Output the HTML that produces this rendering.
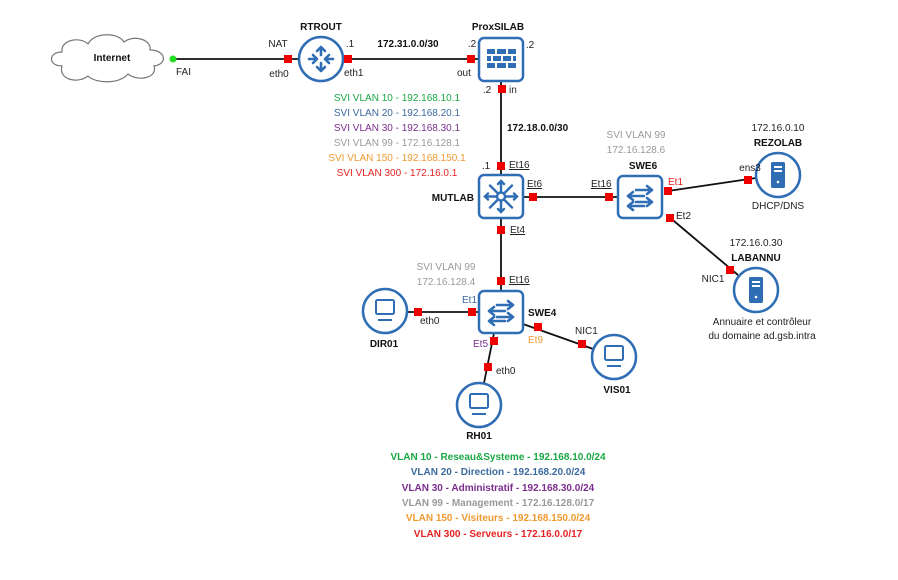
<!DOCTYPE html>
<html><head><meta charset="utf-8"><style>
html,body{margin:0;padding:0;background:#fff;}
svg{display:block;font-family:"Liberation Sans","DejaVu Sans",sans-serif;font-size:10px;}
.b{font-weight:bold;fill:#111;}
.t{fill:#222;}
</style></head><body>
<svg width="898" height="580" viewBox="0 0 898 580" xmlns="http://www.w3.org/2000/svg">
<defs>
<g id="pc"><circle r="22" fill="#fff" stroke="#2f6db5" stroke-width="2.5"/><rect x="-9" y="-11" width="18" height="14" rx="1.5" fill="none" stroke="#2f6db5" stroke-width="2"/><line x1="-7" y1="9" x2="7" y2="9" stroke="#2f6db5" stroke-width="2"/></g>
<g id="srv"><circle r="22" fill="#fff" stroke="#2f6db5" stroke-width="2.5"/><rect x="-7" y="-13" width="14" height="26" rx="1.5" fill="#2f6db5"/><rect x="-4" y="-9" width="8" height="2" fill="#fff"/><rect x="-4" y="-5" width="8" height="2" fill="#fff"/><circle cx="0" cy="7" r="1.3" fill="#fff"/></g>
<g id="sw"><rect x="-22" y="-21" width="44" height="42" rx="5" fill="#fff" stroke="#2f6db5" stroke-width="2.5"/>
<g stroke="#2f6db5" stroke-width="2.6" fill="none" stroke-linecap="round" stroke-linejoin="round">
<path d="M-4 -7 H12 M7 -11 L12 -7 L7 -3"/><path d="M-12 -1 H4 M-7 -5 L-12 -1 L-7 3"/>
<path d="M-4 5 H12 M7 1 L12 5 L7 9"/><path d="M-12 11 H4 M-7 7 L-12 11 L-7 15" transform="translate(0,-2)"/></g></g>
</defs>
<g stroke="#111" stroke-width="1.8" fill="none">
<line x1="172" y1="59" x2="479" y2="59"/>
<line x1="501" y1="81" x2="501" y2="290"/>
<line x1="523" y1="197" x2="617" y2="197"/>
<line x1="668" y1="191" x2="756" y2="178"/>
<line x1="668" y1="216" x2="738" y2="275"/>
<line x1="405" y1="312" x2="480" y2="312"/>
<line x1="523" y1="324" x2="596" y2="350"/>
<line x1="494" y1="333" x2="484" y2="383"/>
</g>
<!-- cloud -->
<path d="M62 66 C48 66 48 52 62 52 C60 40 80 36 88 44 C94 32 118 32 124 42 C134 34 152 40 150 50 C166 50 168 64 154 66 C158 78 138 82 128 74 C120 84 96 84 88 76 C78 84 58 80 62 66 Z" fill="#fff" stroke="#777" stroke-width="1.2"/>
<text x="112" y="61" class="b" text-anchor="middle">Internet</text>
<circle cx="173" cy="59" r="3.5" fill="#22dd22"/>
<!-- router -->
<circle cx="321" cy="59" r="22" fill="#fff" stroke="#2f6db5" stroke-width="2.5"/>
<g stroke="#2f6db5" stroke-width="2.6" fill="none" stroke-linecap="round" stroke-linejoin="round">
<path d="M321 47 V55 M317 51 L321 47 L325 51"/><path d="M321 63 V71 M317 67 L321 71 L325 67"/>
<path d="M309 59 H316 M313 55 L317 59 L313 63"/><path d="M333 59 H326 M329 55 L325 59 L329 63"/></g>
<!-- firewall -->
<rect x="479" y="38" width="44" height="43" rx="5" fill="#fff" stroke="#2f6db5" stroke-width="2.5"/>
<g fill="#2f6db5">
<rect x="487" y="49" width="8" height="5"/><rect x="497" y="49" width="9" height="5"/><rect x="508" y="49" width="8" height="5"/>
<rect x="487" y="56" width="4" height="5"/><rect x="493" y="56" width="8" height="5"/><rect x="503" y="56" width="8" height="5"/><rect x="513" y="56" width="3" height="5"/>
<rect x="487" y="63" width="8" height="5"/><rect x="497" y="63" width="9" height="5"/><rect x="508" y="63" width="8" height="5"/></g>
<!-- MUTLAB L3 -->
<rect x="479" y="175" width="44" height="43" rx="5" fill="#fff" stroke="#2f6db5" stroke-width="2.5"/>
<g stroke="#2f6db5" stroke-width="2.4" fill="none" stroke-linecap="round">
<circle cx="501" cy="196.5" r="4"/>
<path d="M501 192 V181 M501 201 V212 M496 196.5 H485 M506 196.5 H517 M497.5 193 L490 185.5 M504.5 193 L512 185.5 M497.5 200 L490 207.5 M504.5 200 L512 207.5"/>
<path d="M498 184 L501 181 L504 184 M498 209 L501 212 L504 209 M488 193.5 L485 196.5 L488 199.5 M514 193.5 L517 196.5 L514 199.5"/></g>
<use href="#sw" x="640" y="197"/>
<use href="#sw" x="501" y="312"/>
<use href="#srv" x="778" y="175"/>
<use href="#srv" x="756" y="290"/>
<use href="#pc" x="385" y="311"/>
<use href="#pc" x="479" y="405"/>
<use href="#pc" x="614" y="357"/>
<!-- ports -->
<g fill="#ee0000">
<rect x="284" y="55" width="8" height="8"/><rect x="344" y="55" width="8" height="8"/><rect x="467" y="55" width="8" height="8"/>
<rect x="498" y="85" width="8" height="8"/><rect x="497" y="162" width="8" height="8"/><rect x="529" y="193" width="8" height="8"/>
<rect x="497" y="226" width="8" height="8"/><rect x="605" y="193" width="8" height="8"/><rect x="664" y="187" width="8" height="8"/>
<rect x="744" y="176" width="8" height="8"/><rect x="666" y="214" width="8" height="8"/><rect x="726" y="266" width="8" height="8"/>
<rect x="497" y="277" width="8" height="8"/><rect x="468" y="308" width="8" height="8"/><rect x="414" y="308" width="8" height="8"/>
<rect x="490" y="337" width="8" height="8"/><rect x="484" y="363" width="8" height="8"/><rect x="534" y="323" width="8" height="8"/><rect x="578" y="340" width="8" height="8"/>
</g>
<!-- labels -->
<text x="321" y="30" class="b" text-anchor="middle">RTROUT</text>
<text x="498" y="30" class="b" text-anchor="middle">ProxSILAB</text>
<text x="278" y="47" class="t" text-anchor="middle">NAT</text>
<text x="350" y="47" class="t" text-anchor="middle">.1</text>
<text x="408" y="47" class="b" text-anchor="middle">172.31.0.0/30</text>
<text x="472" y="47" class="t" text-anchor="middle">.2</text>
<text x="530" y="48" class="t" text-anchor="middle">.2</text>
<text x="176" y="75" class="t">FAI</text>
<text x="279" y="77" class="t" text-anchor="middle">eth0</text>
<text x="344" y="76" class="t">eth1</text>
<text x="457" y="76" class="t">out</text>
<text x="487" y="93" class="t" text-anchor="middle">.2</text>
<text x="509" y="93" class="t">in</text>
<g text-anchor="middle">
<text x="397" y="101" fill="#1aa845">SVI VLAN 10 - 192.168.10.1</text>
<text x="397" y="116" fill="#3c6a9e">SVI VLAN 20 - 192.168.20.1</text>
<text x="397" y="131" fill="#7b2d8e">SVI VLAN 30 - 192.168.30.1</text>
<text x="397" y="146" fill="#999">SVI VLAN 99 - 172.16.128.1</text>
<text x="397" y="161" fill="#f09a30">SVI VLAN 150 - 192.168.150.1</text>
<text x="397" y="176" fill="#e52222">SVI VLAN 300 - 172.16.0.1</text>
</g>
<text x="507" y="131" class="b">172.18.0.0/30</text>
<text x="486" y="169" class="t" text-anchor="middle">.1</text>
<text x="509" y="168" class="t" text-decoration="underline">Et16</text>
<text x="474" y="201" class="b" text-anchor="end">MUTLAB</text>
<text x="527" y="187" class="t" text-decoration="underline">Et6</text>
<text x="510" y="233" class="t" text-decoration="underline">Et4</text>
<text x="591" y="187" class="t" text-decoration="underline">Et16</text>
<text x="636" y="138" fill="#999" text-anchor="middle">SVI VLAN 99</text>
<text x="636" y="153" fill="#999" text-anchor="middle">172.16.128.6</text>
<text x="643" y="169" class="b" text-anchor="middle">SWE6</text>
<text x="668" y="185" fill="#e52222">Et1</text>
<text x="676" y="219" class="t">Et2</text>
<text x="778" y="131" class="t" text-anchor="middle">172.16.0.10</text>
<text x="778" y="146" class="b" text-anchor="middle">REZOLAB</text>
<text x="750" y="171" class="t" text-anchor="middle">ens3</text>
<text x="778" y="209" class="t" text-anchor="middle">DHCP/DNS</text>
<text x="756" y="246" class="t" text-anchor="middle">172.16.0.30</text>
<text x="756" y="261" class="b" text-anchor="middle">LABANNU</text>
<text x="713" y="282" class="t" text-anchor="middle">NIC1</text>
<text x="762" y="325" class="t" text-anchor="middle">Annuaire et contrôleur</text>
<text x="762" y="339" class="t" text-anchor="middle">du domaine ad.gsb.intra</text>
<text x="446" y="270" fill="#999" text-anchor="middle">SVI VLAN 99</text>
<text x="446" y="285" fill="#999" text-anchor="middle">172.16.128.4</text>
<text x="509" y="283" class="t" text-decoration="underline">Et16</text>
<text x="462" y="303" fill="#3c6a9e">Et1</text>
<text x="528" y="316" class="b">SWE4</text>
<text x="420" y="324" class="t">eth0</text>
<text x="384" y="347" class="b" text-anchor="middle">DIR01</text>
<text x="473" y="347" fill="#7b2d8e">Et5</text>
<text x="528" y="343" fill="#f09a30">Et9</text>
<text x="575" y="334" class="t">NIC1</text>
<text x="617" y="393" class="b" text-anchor="middle">VIS01</text>
<text x="496" y="374" class="t">eth0</text>
<text x="479" y="439" class="b" text-anchor="middle">RH01</text>
<g text-anchor="middle" font-weight="bold">
<text x="498" y="460" fill="#1aa845">VLAN 10 - Reseau&amp;Systeme - 192.168.10.0/24</text>
<text x="498" y="475" fill="#3c6a9e">VLAN 20 - Direction - 192.168.20.0/24</text>
<text x="498" y="491" fill="#7b2d8e">VLAN 30 - Administratif - 192.168.30.0/24</text>
<text x="498" y="506" fill="#999">VLAN 99 - Management - 172.16.128.0/17</text>
<text x="498" y="521" fill="#f09a30">VLAN 150 - Visiteurs - 192.168.150.0/24</text>
<text x="498" y="537" fill="#e52222">VLAN 300 - Serveurs - 172.16.0.0/17</text>
</g>
</svg>
</body></html>
